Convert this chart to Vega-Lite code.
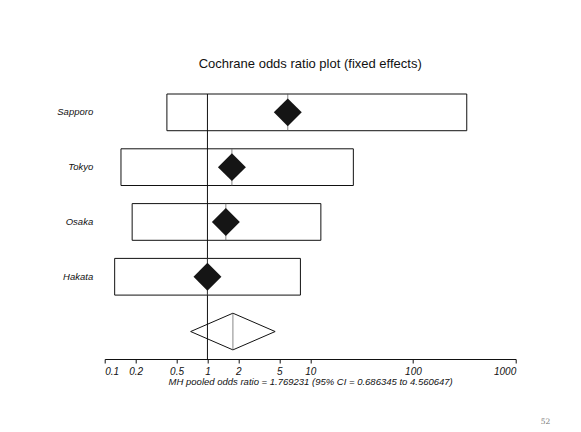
{
  "$schema": "https://vega.github.io/schema/vega-lite/v6.json",
  "width": 411,
  "height": 265,
  "autosize": {"type": "none"},
  "padding": {"left": 104.7, "top": 94, "right": 65.3, "bottom": 73},
  "background": "white",
  "title": {"text": "Cochrane odds ratio plot (fixed effects)", "font": "Liberation Sans", "fontSize": 13, "fontWeight": "normal", "color": "#111", "anchor": "middle", "offset": 23},
  "config": {"view": {"stroke": null}, "font": "Liberation Sans"},
  "datasets": {
    "studies": [
      {"city": "Sapporo", "or": 6.05, "lo": 0.403, "hi": 334},
      {"city": "Tokyo", "or": 1.73, "lo": 0.144, "hi": 26.3},
      {"city": "Osaka", "or": 1.51, "lo": 0.185, "hi": 12.7},
      {"city": "Hakata", "or": 1.0, "lo": 0.125, "hi": 8.03}
    ],
    "pooled": [
      {"city": "Pooled", "vertex": 1, "x": 0.686345, "side": 0},
      {"city": "Pooled", "vertex": 2, "x": 1.769231, "side": -1},
      {"city": "Pooled", "vertex": 3, "x": 4.560647, "side": 0},
      {"city": "Pooled", "vertex": 4, "x": 1.769231, "side": 1},
      {"city": "Pooled", "vertex": 5, "x": 0.686345, "side": 0}
    ],
    "pooledEst": [
      {"city": "Pooled", "or": 1.769231}
    ],
    "ref": [{"x": 1}]
  },
  "resolve": {"axis": {"x": "independent"}, "scale": {"yOffset": "independent"}},
  "layer": [
    {
      "data": {"name": "studies"},
      "mark": {"type": "bar", "fill": "white", "stroke": "#111", "strokeWidth": 1},
      "encoding": {
        "x": {
          "field": "lo", "type": "quantitative",
          "scale": {"type": "log", "domain": [0.1, 1000], "nice": false},
          "axis": {
            "values": [0.1, 0.2, 0.5, 1, 2, 5, 10, 100, 1000],
            "format": "~g", "grid": false,
            "domainColor": "#111", "tickColor": "#111", "tickSize": 4,
            "labelFont": "Liberation Sans", "labelFontSize": 10, "labelFontStyle": "italic", "labelColor": "#111", "labelPadding": 3,
            "title": "MH pooled odds ratio = 1.769231  (95% CI = 0.686345 to 4.560647)",
            "titleFont": "Liberation Sans", "titleFontSize": 9.5, "titleFontStyle": "italic", "titleFontWeight": "normal", "titleColor": "#111", "titlePadding": 0
          }
        },
        "x2": {"field": "hi"},
        "y": {
          "field": "city", "type": "nominal",
          "scale": {"domain": ["Sapporo", "Tokyo", "Osaka", "Hakata", "Pooled"], "paddingInner": 0.33, "paddingOuter": 0.083, "align": 0},
          "axis": {"title": null, "domain": false, "ticks": false, "labelPadding": 12, "labelFont": "Liberation Sans", "labelFontSize": 9.5, "labelFontStyle": "italic", "labelColor": "#111", "labelExpr": "datum.label == 'Pooled' ? '' : datum.label"}
        }
      }
    },
    {
      "data": {"name": "ref"},
      "mark": {"type": "rule", "color": "#111", "strokeWidth": 1},
      "encoding": {
        "x": {
          "field": "x", "type": "quantitative",
          "axis": {"orient": "bottom", "labels": false, "ticks": false, "domain": false, "grid": false,
                   "title": "52", "titleFont": "DejaVu Serif", "titleFontSize": 7.5, "titleFontWeight": "normal", "titleColor": "#777",
                   "titleAnchor": "end", "titleAlign": "right", "titleX": 445, "titlePadding": 58}
        }
      }
    },
    {
      "data": {"name": "studies"},
      "mark": {"type": "tick", "color": "#555", "thickness": 1, "size": 37},
      "encoding": {
        "x": {"field": "or", "type": "quantitative", "axis": null},
        "y": {"field": "city", "type": "nominal"}
      }
    },
    {
      "data": {"name": "studies"},
      "mark": {"type": "point", "shape": "diamond", "filled": true, "size": 780, "color": "#151515", "opacity": 1},
      "encoding": {
        "x": {"field": "or", "type": "quantitative", "axis": null},
        "y": {"field": "city", "type": "nominal"}
      }
    },
    {
      "data": {"name": "pooled"},
      "mark": {"type": "line", "color": "#111", "strokeWidth": 1},
      "encoding": {
        "x": {"field": "x", "type": "quantitative", "axis": null},
        "y": {"field": "city", "type": "nominal"},
        "yOffset": {"field": "side", "type": "quantitative", "scale": {"domain": [-1, 1], "range": [0, 36.7]}},
        "order": {"field": "vertex"}
      }
    },
    {
      "data": {"name": "pooledEst"},
      "mark": {"type": "tick", "color": "#555", "thickness": 1, "size": 37},
      "encoding": {
        "x": {"field": "or", "type": "quantitative", "axis": null},
        "y": {"field": "city", "type": "nominal"}
      }
    }
  ]
}
